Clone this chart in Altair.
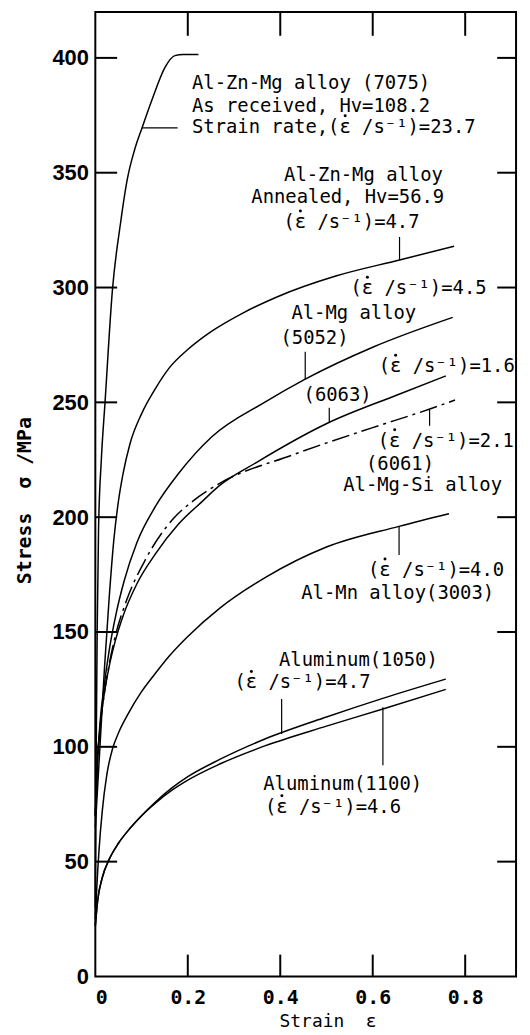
import altair as alt
import pandas as pd

# ---------------- data ----------------
ar7075_x = [0, 0.002, 0.004, 0.007, 0.013, 0.021, 0.037, 0.0545, 0.069, 0.085, 0.101, 0.123, 0.151, 0.172, 0.190, 0.223]
ar7075_y = [30, 100, 150, 195, 225, 250, 299, 328, 347, 360, 369.5, 382, 396, 401, 401.5, 401.5]

an7075_x = [0, 0.010, 0.020, 0.030, 0.040, 0.050, 0.060, 0.075, 0.100, 0.130, 0.160, 0.200, 0.252, 0.320, 0.394, 0.520, 0.658, 0.776]
an7075_y = [65, 100, 135, 165, 190, 207, 219, 232, 245, 256, 265, 273, 281, 289, 296, 305, 312, 318]

a5052_x = [0, 0.005, 0.010, 0.020, 0.030, 0.045, 0.062, 0.090, 0.131, 0.180, 0.252, 0.366, 0.453, 0.600, 0.773]
a5052_y = [70, 95, 110, 128, 142, 158, 172, 189, 205, 219, 235, 250, 260, 274, 287]

a6063_x = [0, 0.005, 0.010, 0.020, 0.030, 0.043, 0.060, 0.090, 0.130, 0.180, 0.232, 0.267, 0.350, 0.503, 0.650, 0.758]
a6063_y = [70, 95, 108, 124, 135, 146, 157, 171, 184, 197, 207, 213.5, 224, 241, 253, 261.5]

a6061_x = [0, 0.005, 0.010, 0.020, 0.030, 0.043, 0.068, 0.107, 0.167, 0.211, 0.267, 0.425, 0.600, 0.722, 0.778]
a6061_y = [70, 95, 108, 124, 136, 148, 164, 181, 199, 207, 214.5, 227, 239, 247, 251]

a3003_x = [0, 0.003, 0.008, 0.015, 0.025, 0.037, 0.050, 0.070, 0.100, 0.130, 0.160, 0.200, 0.270, 0.370, 0.500, 0.657, 0.765]
a3003_y = [25, 38, 55, 72, 88, 99, 106, 114, 124, 132, 139.5, 148, 160.5, 174, 187, 196, 201.5]

a1050_x = [0, 0.005, 0.015, 0.030, 0.050, 0.075, 0.100, 0.130, 0.165, 0.200, 0.269, 0.368, 0.500, 0.620, 0.758]
a1050_y = [22, 33, 43, 51, 58, 64.5, 70, 76, 82, 87, 94.5, 103.5, 113, 121, 129.5]

a1100_x = [0, 0.005, 0.015, 0.030, 0.050, 0.075, 0.100, 0.130, 0.165, 0.200, 0.269, 0.368, 0.500, 0.622, 0.758]
a1100_y = [22, 33, 43, 51, 58, 64.5, 70, 75.5, 81, 85.5, 92.5, 100.5, 109, 116.5, 125]

solid_names = ["7075 as received", "7075 annealed", "5052", "6063", "3003", "1050", "1100"]
solid_xs = [ar7075_x, an7075_x, a5052_x, a6063_x, a3003_x, a1050_x, a1100_x]
solid_ys = [ar7075_y, an7075_y, a5052_y, a6063_y, a3003_y, a1050_y, a1100_y]

# annotation texts (left aligned block); the dot over epsilon is drawn separately
left_text = ["Al-Zn-Mg alloy (7075)", "As received, Hv=108.2", "Strain rate,(ε /s⁻¹)=23.7"]
left_x = [0.209, 0.209, 0.209]
left_y = [389.2, 379.2, 370.1]

# annotation texts (centred)
center_text = [
    "Al-Zn-Mg alloy", "Annealed, Hv=56.9", "(ε /s⁻¹)=4.7",
    "(ε /s⁻¹)=4.5", "Al-Mg alloy", "(5052)",
    "(ε /s⁻¹)=1.6", "(6063)",
    "(ε /s⁻¹)=2.1", "(6061)", "Al-Mg-Si alloy",
    "(ε /s⁻¹)=4.0", "Al-Mn alloy(3003)",
    "Aluminum(1050)", "(ε /s⁻¹)=4.7",
    "Aluminum(1100)", "(ε /s⁻¹)=4.6",
]
center_x = [0.580, 0.546, 0.554,
            0.699, 0.559, 0.474,
            0.760, 0.524,
            0.758, 0.659, 0.708,
            0.737, 0.654,
            0.569, 0.448,
            0.535, 0.514]
center_y = [349, 339.4, 328.6,
            299.7, 288.9, 277.8,
            265.8, 253.2,
            233.3, 223.2, 213.9,
            177, 167,
            138, 128,
            84, 73.9]

# leader lines
lead_x = [0.101, 0.658, 0.454, 0.506, 0.723, 0.657, 0.403, 0.622]
lead_x2 = [0.178, 0.658, 0.454, 0.506, 0.723, 0.657, 0.403, 0.622]
lead_y = [369.5, 322, 272, 247.7, 247, 195.8, 120.8, 117.2]
lead_y2 = [369.5, 312, 260, 241.2, 239.8, 183.5, 105.6, 92]

x_ticks = [0, 0.2, 0.4, 0.6, 0.8]
y_ticks = [0, 50, 100, 150, 200, 250, 300, 350, 400]

# ---------------- build tables ----------------
rows = []
for name, xs_, ys_ in zip(solid_names, solid_xs, solid_ys):
    for a, b in zip(xs_, ys_):
        rows.append({"alloy": name, "x": a, "y": b})
df_solid = pd.DataFrame(rows)
df_dash = pd.DataFrame({"alloy": "6061", "x": a6061_x, "y": a6061_y})
df_left = pd.DataFrame({"t": left_text, "x": left_x, "y": left_y})
df_center = pd.DataFrame({"t": center_text, "x": center_x, "y": center_y})
df_dot_c = df_center[df_center["t"].str.startswith("(ε")]
df_dot_l = df_left[df_left["t"].str.contains("ε")]
df_lead = pd.DataFrame({"x": lead_x, "x2": lead_x2, "y": lead_y, "y2": lead_y2})
df_xt = pd.DataFrame({"x": x_ticks[1:]})
df_yt = pd.DataFrame({"y": y_ticks[1:]})

W, H = 424, 972
XMAX, YMAX = 0.91, 420
MONO = "DejaVu Sans Mono"
FS = 19
CW = 0.602 * FS  # monospace cell width
NB = "\u00a0"

xsc = alt.Scale(domain=[0, XMAX], nice=False, zero=True)
ysc = alt.Scale(domain=[0, YMAX], nice=False, zero=True)

xaxis = alt.Axis(values=x_ticks, format=".1~f", title="Strain" + NB * 2 + "ε", grid=False, domain=False,
                 ticks=False, labelFont=MONO, labelFontWeight="bold", labelFontSize=20,
                 labelPadding=11, labelColor="black", titleFont=MONO, titleFontSize=18,
                 titleFontWeight="normal", titleColor="black", titleX=234, titlePadding=5)
yaxis = alt.Axis(values=y_ticks, format="d", title="Stress" + NB * 2 + "σ" + NB + "/MPa", grid=False,
                 domain=False, ticks=False, labelFont="Liberation Sans",
                 labelFontWeight="bold", labelFontSize=22, labelPadding=7, labelColor="black",
                 titleFont=MONO, titleFontSize=20, titleFontWeight="bold", titleColor="black",
                 titleX=-71, titleY=492, titleBaseline="middle", titleAngle=-90)

X = alt.X("x:Q", scale=xsc, axis=xaxis)
Y = alt.Y("y:Q", scale=ysc, axis=yaxis)

solid = alt.Chart(df_solid).mark_line(color="black", strokeWidth=1.5, interpolate="monotone").encode(
    x=X, y=Y, detail="alloy:N")
dash = alt.Chart(df_dash).mark_line(color="black", strokeWidth=1.5, interpolate="monotone",
                                    strokeDash=[18, 5, 3, 5]).encode(x=X, y=Y)

leaders = alt.Chart(df_lead).mark_rule(color="black", strokeWidth=1.2).encode(
    x=X, y=Y, x2="x2:Q", y2="y2:Q")

txt_left = alt.Chart(df_left).mark_text(align="left", baseline="middle", font=MONO,
                                        fontSize=FS, color="black").encode(x=X, y=Y, text="t:N")
txt_center = alt.Chart(df_center).mark_text(align="center", baseline="middle", font=MONO,
                                            fontSize=FS, color="black").encode(x=X, y=Y, text="t:N")

dot_c = alt.Chart(df_dot_c).mark_circle(color="black", size=9, opacity=1,
                                        xOffset=-(6 - 1.5) * CW, yOffset=-11).encode(x=X, y=Y)
dot_l = alt.Chart(df_dot_l).mark_circle(color="black", size=9, opacity=1,
                                        xOffset=13.5 * CW, yOffset=-11).encode(x=X, y=Y)

tick_l = alt.Chart(df_yt).mark_rule(color="black", strokeWidth=2).encode(
    y=Y, x=alt.value(0), x2=alt.value(22))
tick_r = alt.Chart(df_yt).mark_rule(color="black", strokeWidth=2).encode(
    y=Y, x=alt.value(W), x2=alt.value(W - 19))
tick_b = alt.Chart(df_xt).mark_rule(color="black", strokeWidth=2).encode(
    x=X, y=alt.value(H), y2=alt.value(H - 22))
tick_t = alt.Chart(df_xt).mark_rule(color="black", strokeWidth=2).encode(
    x=X, y=alt.value(0), y2=alt.value(24))

chart = alt.layer(solid, dash, leaders, txt_left, txt_center, dot_c, dot_l,
                  tick_l, tick_r, tick_b, tick_t).properties(
    width=W, height=H,
    autosize=alt.AutoSizeParams(type="none"),
    padding={"left": 88, "top": 0, "right": 6, "bottom": 55},
    background="white",
).configure_view(stroke="black", strokeWidth=2)

chart.save("out.html", embed_options={"renderer": "svg", "actions": False})
